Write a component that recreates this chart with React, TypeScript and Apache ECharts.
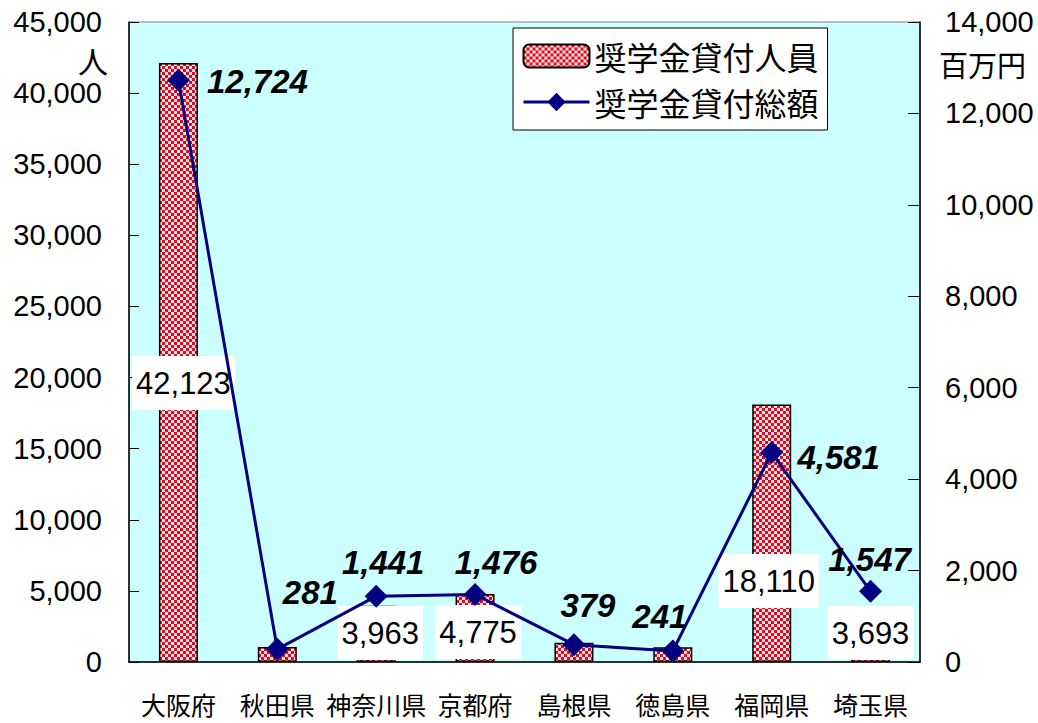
import React, { useEffect, useRef } from "react";
import * as echarts from "echarts";

const categories = ["大阪府", "秋田県", "神奈川県", "京都府", "島根県", "徳島県", "福岡県", "埼玉県"];
const borrowers = [42123, 1050, 3963, 4775, 1350, 1030, 18110, 3693];
const loanTotals = [12724, 281, 1441, 1476, 379, 241, 4581, 1547];
const showBarLabel = [true, false, true, true, false, false, true, true];
const leftTicks = { min: 0, max: 45000, interval: 5000 };
const rightTicks = { min: 0, max: 14000, interval: 2000 };
const seriesNames = ["奨学金貸付人員", "奨学金貸付総額"];
const leftUnit = "人";
const rightUnit = "百万円";

// label placement (style only)
const barLabelOffsets = [[5, -249], [0, 0], [4, 1], [3, 0], [0, 0], [0, 0], [-3, -51], [0, 1]];
const lineLabelOffsets = [[79, 1], [33, -57], [7, -34], [21, -32], [14, -39], [-13, -34], [67, 5], [-1, -32]];

const NUM_FONT = "'Liberation Sans', Arial, sans-serif";
const JP_FONT = "'Noto Sans CJK JP', 'Noto Sans', sans-serif";

const fmt = (v: number) => v.toLocaleString("en-US");

function makePattern(): HTMLCanvasElement {
  const c = document.createElement("canvas");
  c.width = 6;
  c.height = 6;
  const ctx = c.getContext("2d")!;
  ctx.fillStyle = "#FFE6DC";
  ctx.fillRect(0, 0, 6, 6);
  ctx.fillStyle = "#DC0A28";
  ctx.fillRect(0, 0, 3, 3);
  ctx.fillRect(3, 3, 3, 3);
  return c;
}

export default function App() {
  const ref = useRef<HTMLDivElement>(null);
  useEffect(() => {
    if (!ref.current) return;
    const chart = echarts.init(ref.current, undefined, { renderer: "svg" });
    const pattern = { image: makePattern(), repeat: "repeat" as const };

    const option: any = {
      animation: false,
      backgroundColor: "#FFFFFF",
      grid: {
        left: 129,
        right: 118,
        top: 22,
        bottom: 61,
        containLabel: false,
        outerBoundsMode: "none",
        show: true,
        backgroundColor: "#CCFFFF",
        borderColor: "#808080",
        borderWidth: 1,
      },
      legend: {
        orient: "vertical",
        left: 513,
        top: 28,
        backgroundColor: "#FFFFFF",
        borderColor: "#000000",
        borderWidth: 1,
        padding: [12, 9, 12, 9],
        itemGap: 14,
        itemWidth: 66,
        itemHeight: 23,
        textStyle: { fontFamily: JP_FONT, fontSize: 32, color: "#000" },
        data: [
          { name: seriesNames[0] },
          { name: seriesNames[1], lineStyle: { width: 3, color: "#000080" } },
        ],
      },
      xAxis: {
        type: "category",
        data: categories,
        axisLine: { lineStyle: { color: "#000", width: 1.5 } },
        axisTick: { inside: true, length: 10, lineStyle: { color: "#000" } },
        axisLabel: { fontFamily: JP_FONT, fontSize: 25, color: "#000", margin: 29, interval: 0 },
      },
      yAxis: [
        {
          type: "value",
          ...leftTicks,
          axisLine: { show: true, lineStyle: { color: "#000", width: 1.5 } },
          axisTick: { show: true, inside: true, length: 10, lineStyle: { color: "#000" } },
          splitLine: { show: false },
          axisLabel: { fontFamily: NUM_FONT, fontSize: 29, color: "#000", margin: 27, formatter: (v: number) => fmt(v) },
        },
        {
          type: "value",
          ...rightTicks,
          position: "right",
          axisLine: { show: true, lineStyle: { color: "#000", width: 1.5 } },
          axisTick: { show: true, inside: true, length: 12, lineStyle: { color: "#000" } },
          splitLine: { show: false },
          axisLabel: { fontFamily: NUM_FONT, fontSize: 29, color: "#000", margin: 25, formatter: (v: number) => fmt(v) },
        },
      ],
      graphic: [
        { type: "text", left: 78, top: 45, style: { text: leftUnit, fontFamily: JP_FONT, fontSize: 30, fill: "#000" } },
        { type: "text", left: 939, top: 49, style: { text: rightUnit, fontFamily: JP_FONT, fontSize: 29, fill: "#000" } },
      ],
      series: [
        {
          name: seriesNames[0],
          type: "bar",
          yAxisIndex: 0,
          barWidth: 39,
          itemStyle: { color: pattern, borderColor: "#000", borderWidth: 1.5 },
          data: borrowers.map((v, i) => ({
            value: v,
            label: {
              show: showBarLabel[i],
              position: "insideBottom",
              distance: 3,
              offset: barLabelOffsets[i],
              formatter: fmt(v),
              fontFamily: NUM_FONT,
              fontSize: 31,
              color: "#000",
              backgroundColor: "#FFFFFF",
              padding: [12, 4, 11, 4],
            },
          })),
        },
        {
          name: seriesNames[1],
          type: "line",
          yAxisIndex: 1,
          symbol: "diamond",
          symbolSize: 23,
          lineStyle: { color: "#000080", width: 3 },
          itemStyle: { color: "#000080" },
          data: loanTotals.map((v, i) => ({
            value: v,
            label: {
              show: true,
              position: "inside",
              offset: lineLabelOffsets[i],
              formatter: fmt(v),
              fontFamily: NUM_FONT,
              fontStyle: "italic",
              fontWeight: "bold",
              fontSize: 33,
              color: "#000",
            },
          })),
        },
      ],
    };
    chart.setOption(option);
    return () => chart.dispose();
  }, []);
  return <div ref={ref} style={{ position: "absolute", left: 0, top: 0, width: 1038, height: 723 }} />;
}
